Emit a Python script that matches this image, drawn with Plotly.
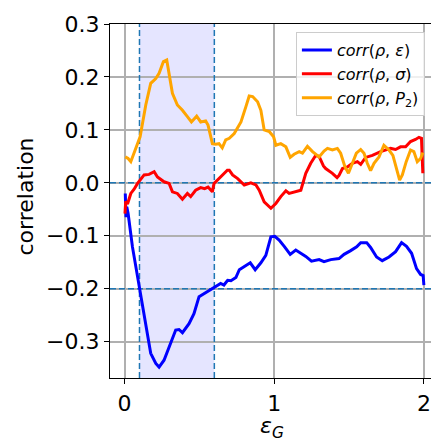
import plotly.graph_objects as go

# ---- data ----
eps_blue = [0.005, 0.01, 0.015, 0.024, 0.053, 0.098, 0.131, 0.175, 0.209, 0.231, 0.264, 0.309, 0.342, 0.364,
            0.387, 0.431, 0.464, 0.498, 0.531, 0.575, 0.609, 0.642, 0.664, 0.689, 0.711, 0.744, 0.767, 0.8,
            0.84, 0.873, 0.911, 0.944, 0.978, 1.004, 1.033, 1.067, 1.107, 1.144, 1.178, 1.211, 1.249, 1.3,
            1.333, 1.378, 1.433, 1.467, 1.511, 1.551, 1.578, 1.618, 1.644, 1.684, 1.722, 1.767, 1.811, 1.851,
            1.884, 1.918, 1.951, 1.978, 1.995, 2.0]
corr_eps = [-0.02, -0.065, -0.045, -0.058, -0.121, -0.196, -0.247, -0.322, -0.341, -0.348, -0.335, -0.304,
            -0.278, -0.277, -0.283, -0.266, -0.247, -0.215, -0.209, -0.202, -0.196, -0.190, -0.193, -0.184,
            -0.185, -0.179, -0.164, -0.158, -0.151, -0.164, -0.151, -0.137, -0.102, -0.101, -0.108, -0.120,
            -0.135, -0.127, -0.133, -0.139, -0.148, -0.145, -0.149, -0.145, -0.143, -0.135, -0.128, -0.121,
            -0.113, -0.113, -0.122, -0.140, -0.147, -0.140, -0.130, -0.113, -0.120, -0.133, -0.162, -0.173,
            -0.175, -0.193]

eps_red = [0.003, 0.008, 0.02, 0.031, 0.042, 0.064, 0.087, 0.131, 0.164, 0.198, 0.22, 0.264, 0.298, 0.32,
           0.353, 0.387, 0.42, 0.442, 0.475, 0.509, 0.535, 0.558, 0.587, 0.598, 0.62, 0.653, 0.687, 0.7,
           0.722, 0.756, 0.8, 0.844, 0.878, 0.9, 0.933, 0.978, 1.011, 1.044, 1.078, 1.1, 1.133, 1.178,
           1.211, 1.244, 1.278, 1.3, 1.329, 1.344, 1.389, 1.42, 1.433, 1.456, 1.489, 1.522, 1.556, 1.578,
           1.611, 1.656, 1.711, 1.744, 1.778, 1.811, 1.844, 1.878, 1.911, 1.944, 1.967, 1.984, 1.993]
corr_sigma = [-0.058, -0.035, -0.04, -0.03, -0.02, -0.012, -0.001, 0.015, 0.016, 0.021, 0.011, 0.002,
              -0.001, -0.017, -0.020, -0.031, -0.020, -0.026, -0.014, -0.009, -0.011, -0.008, -0.017,
              -0.001, 0.005, 0.013, 0.024, 0.024, 0.015, 0.008, -0.004, 0.0, -0.004, -0.014, -0.036,
              -0.048, -0.039, -0.026, -0.015, -0.020, -0.017, -0.014, 0.018, 0.037, 0.052, 0.050, 0.032,
              0.027, 0.018, 0.010, 0.014, 0.027, 0.030, 0.037, 0.040, 0.035, 0.048, 0.052, 0.059, 0.062,
              0.065, 0.063, 0.068, 0.068, 0.078, 0.082, 0.086, 0.084, 0.018]

eps_orange = [0.005, 0.024, 0.042, 0.064, 0.087, 0.104, 0.12, 0.142, 0.175, 0.209, 0.231, 0.26, 0.282,
              0.298, 0.32, 0.353, 0.387, 0.42, 0.447, 0.482, 0.509, 0.542, 0.558, 0.587, 0.609, 0.631,
              0.653, 0.676, 0.7, 0.733, 0.778, 0.811, 0.833, 0.856, 0.889, 0.911, 0.933, 0.967, 0.996,
              1.011, 1.044, 1.078, 1.107, 1.133, 1.167, 1.189, 1.222, 1.256, 1.289, 1.3, 1.333, 1.356,
              1.389, 1.422, 1.444, 1.473, 1.496, 1.522, 1.549, 1.578, 1.6, 1.622, 1.644, 1.667, 1.7,
              1.733, 1.767, 1.793, 1.816, 1.838, 1.856, 1.882, 1.911, 1.933, 1.956, 1.978, 1.993]
corr_p2 = [0.049, 0.046, 0.040, 0.056, 0.074, 0.087, 0.112, 0.147, 0.188, 0.197, 0.207, 0.229, 0.232,
           0.207, 0.169, 0.147, 0.137, 0.125, 0.115, 0.126, 0.115, 0.117, 0.109, 0.074, 0.073, 0.074,
           0.066, 0.081, 0.084, 0.093, 0.115, 0.144, 0.164, 0.163, 0.153, 0.137, 0.100, 0.097, 0.087,
           0.071, 0.074, 0.068, 0.048, 0.054, 0.059, 0.056, 0.069, 0.059, 0.052, 0.049, 0.060, 0.065,
           0.062, 0.065, 0.056, 0.030, 0.018, 0.037, 0.056, 0.063, 0.056, 0.037, 0.023, 0.037, 0.049,
           0.071, 0.062, 0.052, 0.027, 0.005, 0.015, 0.040, 0.062, 0.059, 0.040, 0.046, 0.057]

series_names = ["<i>corr</i>(<i>ρ</i>, <i>ε</i>)",
                "<i>corr</i>(<i>ρ</i>, <i>σ</i>)",
                "<i>corr</i>(<i>ρ</i>, <i>P</i><sub>2</sub>)"]
x_ticks = [0, 1, 2]
y_ticks = [-0.3, -0.2, -0.1, 0.0, 0.1, 0.2, 0.3]
x_lim = [-0.097, 2.0476]
y_lim = [-0.3686, 0.3]
hlines = [0.0, -0.2]
vlines = [0.1, 0.6]
span = [0.1, 0.6]

FONT = "DejaVu Sans"
REF = "#1f77b4"

fig = go.Figure()

# reference dashed lines (drawn under the curves)
for h in hlines:
    fig.add_trace(go.Scatter(x=x_lim, y=[h, h], mode="lines", showlegend=False, hoverinfo="skip",
                             line=dict(color=REF, width=1.5, dash="6px,3px")))
for v in vlines:
    fig.add_trace(go.Scatter(x=[v, v], y=y_lim, mode="lines", showlegend=False, hoverinfo="skip",
                             line=dict(color=REF, width=1.5, dash="6px,3px")))

for xs, ys, name, col in [(eps_blue, corr_eps, series_names[0], "#0000ff"),
                          (eps_red, corr_sigma, series_names[1], "#ff0000"),
                          (eps_orange, corr_p2, series_names[2], "#ffa500")]:
    fig.add_trace(go.Scatter(x=xs, y=ys, mode="lines", name=name,
                             line=dict(color=col, width=3)))

shapes = [dict(type="rect", xref="x", yref="y domain", x0=span[0], x1=span[1], y0=0, y1=1,
               fillcolor="#e5e5ff", line=dict(width=0), layer="below")]

fig.update_layout(
    width=431, height=442,
    margin=dict(l=110, r=0, t=24, b=64),
    paper_bgcolor="white", plot_bgcolor="white",
    font=dict(family=FONT, size=22, color="black"),
    showlegend=True,
    legend=dict(x=0.981, y=0.977, xanchor="right", yanchor="top",
                bgcolor="rgba(255,255,255,0.8)", bordercolor="#cccccc", borderwidth=1,
                font=dict(family=FONT, size=16, color="black"), tracegroupgap=0),
    shapes=shapes,
    annotations=[
        dict(text="correlation", xref="paper", yref="paper", x=-(110 - 25) / 321, y=(378 - 196.5) / 354,
             showarrow=False, textangle=-90, font=dict(family=FONT, size=22),
             xanchor="center", yanchor="middle"),
        dict(text="<i>ε</i><sub><i>G</i></sub>", xref="paper", yref="paper", x=(272 - 110) / 321,
             y=-(411 - 378) / 354, showarrow=False, font=dict(family=FONT, size=22),
             xanchor="center", yanchor="top"),
    ],
)
fig.update_xaxes(range=x_lim, tickvals=x_ticks, ticktext=[str(t) for t in x_ticks],
                 showgrid=True, gridcolor="#b0b0b0", gridwidth=1.5, zeroline=False,
                 showline=True, linecolor="black", linewidth=1.2, mirror=True,
                 ticks="outside", ticklen=5, tickcolor="black", tickfont=dict(size=22))
fig.update_yaxes(range=y_lim, tickvals=y_ticks, tickformat=".1f",
                 showgrid=True, gridcolor="#b0b0b0", gridwidth=1.5, zeroline=False,
                 showline=True, linecolor="black", linewidth=1.2,
                 ticks="outside", ticklen=5, tickcolor="black", tickfont=dict(size=22))

fig.write_html("out.html")
